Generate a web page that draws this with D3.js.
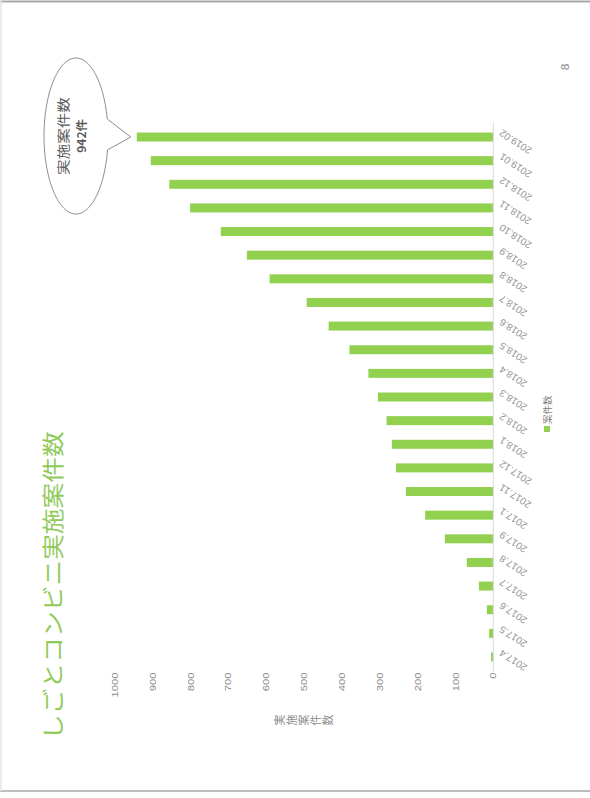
<!DOCTYPE html>
<html>
<head>
<meta charset="utf-8">
<script src="https://cdn.jsdelivr.net/npm/d3@7"></script>
<style>
  html, body { margin: 0; padding: 0; background: #fff; }
  svg { display: block; font-family: "Noto Sans CJK JP", "Liberation Sans", sans-serif; }
</style>
</head>
<body>
<svg></svg>
<script>
// slide is drawn landscape, then turned -90deg onto the portrait page
const width = 590;
const height = 798;

const categories = ["2017.4", "2017.5", "2017.6", "2017.7", "2017.8", "2017.9", "2017.1", "2017.11", "2017.12",
    "2018.1", "2018.2", "2018.3", "2018.4", "2018.5", "2018.6", "2018.7", "2018.8", "2018.9", "2018.10",
    "2018.11", "2018.12", "2019.01", "2019.02"];
const counts = [6, 11, 17, 38, 70, 128, 180, 231, 257, 268, 282, 305, 330, 380, 435, 493, 591, 651, 720,
    801, 856, 905, 942];
const valueTicks = [0, 100, 200, 300, 400, 500, 600, 700, 800, 900, 1000];
const seriesName = "案件数";
const axisTitle = "実施案件数";
const title = "しごとコンビニ実施案件数";
const calloutLines = ["実施案件数", "942件"];

const svg = d3.select("svg")
    .attr("width", width)
    .attr("height", height);

// page border lines
svg.append("line").attr("x1", 0).attr("x2", width).attr("y1", 1.5).attr("y2", 1.5)
    .attr("stroke", "#a9a9a9").attr("stroke-width", 2);
svg.append("line").attr("x1", 0).attr("x2", width).attr("y1", 791).attr("y2", 791)
    .attr("stroke", "#bdbdbd").attr("stroke-width", 2);
svg.append("line").attr("x1", 1).attr("x2", 1).attr("y1", 0).attr("y2", 791)
    .attr("stroke", "#e6e6e6").attr("stroke-width", 1.5);

const slide = svg.append("g")
    .attr("transform", `translate(0,${height}) rotate(-90)`);

const x = d3.scaleBand()
    .domain(categories)
    .range([129.2, 672.8])
    .paddingInner(0.62)
    .paddingOuter(0.31);

const y = d3.scaleLinear()
    .domain([0, 1000])
    .range([493.3, 114.8]);

// stretched text helper (slide image is wider than tall)
function label(g, tx, ty, str, sx) {
    return g.append("text")
        .attr("transform", `translate(${tx},${ty}) scale(${sx},1)`)
        .text(str);
}

// title
label(slide, 58, 51.5, title, 1.17)
    .attr("font-size", 22)
    .attr("dominant-baseline", "central")
    .attr("fill", "#8fca5a");

// bars
slide.append("g")
    .selectAll("rect")
    .data(counts)
    .join("rect")
    .attr("x", (d, i) => x(categories[i]))
    .attr("width", x.bandwidth())
    .attr("y", d => y(d))
    .attr("height", d => y(0) - y(d))
    .attr("fill", "#92d050");

// category axis line
slide.append("line")
    .attr("x1", 126).attr("x2", 675)
    .attr("y1", y(0)).attr("y2", y(0))
    .attr("stroke", "#d9d9d9").attr("stroke-width", 1);

// category labels
slide.append("g")
    .selectAll("text")
    .data(categories)
    .join("text")
    .attr("transform", d => `translate(${x(d) + x.bandwidth() / 2 + 5},${y(0) + 7}) rotate(-57)`)
    .attr("text-anchor", "end")
    .attr("dominant-baseline", "central")
    .attr("font-family", "Liberation Sans, sans-serif")
    .attr("font-size", 10)
    .attr("fill", "#939393")
    .text(d => d);

// value tick labels
const tg = slide.append("g")
    .attr("font-family", "Liberation Sans, sans-serif")
    .attr("font-size", 9)
    .attr("fill", "#8c8c8c");
valueTicks.forEach(v => {
    label(tg, 125.5, y(v), v, 1.25)
        .attr("text-anchor", "end")
        .attr("dominant-baseline", "central");
});

// value axis title, stacked characters
slide.append("g")
    .selectAll("text")
    .data(Array.from(axisTitle))
    .join("text")
    .attr("x", 78)
    .attr("y", (d, i) => 279 + i * 12)
    .attr("text-anchor", "middle")
    .attr("dominant-baseline", "central")
    .attr("font-size", 11)
    .attr("fill", "#8c8c8c")
    .text(d => d);

// legend
const lx = 366, ly = 547;
slide.append("rect")
    .attr("x", lx).attr("y", ly - 3)
    .attr("width", 6).attr("height", 6)
    .attr("fill", "#92d050");
label(slide, lx + 8, ly, seriesName, 1.05)
    .attr("font-size", 9)
    .attr("dominant-baseline", "central")
    .attr("fill", "#7f7f7f");

// page number
label(slide, 731, 565, "8", 1.2)
    .attr("font-family", "Liberation Sans, sans-serif")
    .attr("font-size", 10)
    .attr("text-anchor", "middle")
    .attr("dominant-baseline", "central")
    .attr("fill", "#8c8c8c");

// callout bubble pointing at the last bar
const last = categories[categories.length - 1];
const cx = x(last) + x.bandwidth() / 2 + 1;
const cy = 76;
const rx = 78, ry = 32;
const tip = [x(last) + x.bandwidth() / 2, y(counts[counts.length - 1]) - 6];
const steps = 120;
const start = Math.PI / 2 + 0.18, end = Math.PI / 2 - 0.22 + 2 * Math.PI;
const pts = d3.range(steps + 1).map(k => {
    const t = start + (end - start) * k / steps;
    return [cx + rx * Math.cos(t), cy + ry * Math.sin(t)];
});
slide.append("path")
    .attr("d", d3.line()([...pts, tip]) + "Z")
    .attr("fill", "#fff")
    .attr("stroke", "#8c8c8c")
    .attr("stroke-width", 1);

label(slide, cx, 62, calloutLines[0], 1.2)
    .attr("font-size", 13)
    .attr("text-anchor", "middle")
    .attr("dominant-baseline", "central")
    .attr("fill", "#595959");
label(slide, cx, 81, calloutLines[1], 1.1)
    .attr("font-size", 11)
    .attr("font-weight", "bold")
    .attr("text-anchor", "middle")
    .attr("dominant-baseline", "central")
    .attr("fill", "#595959");
</script>
</body>
</html>
